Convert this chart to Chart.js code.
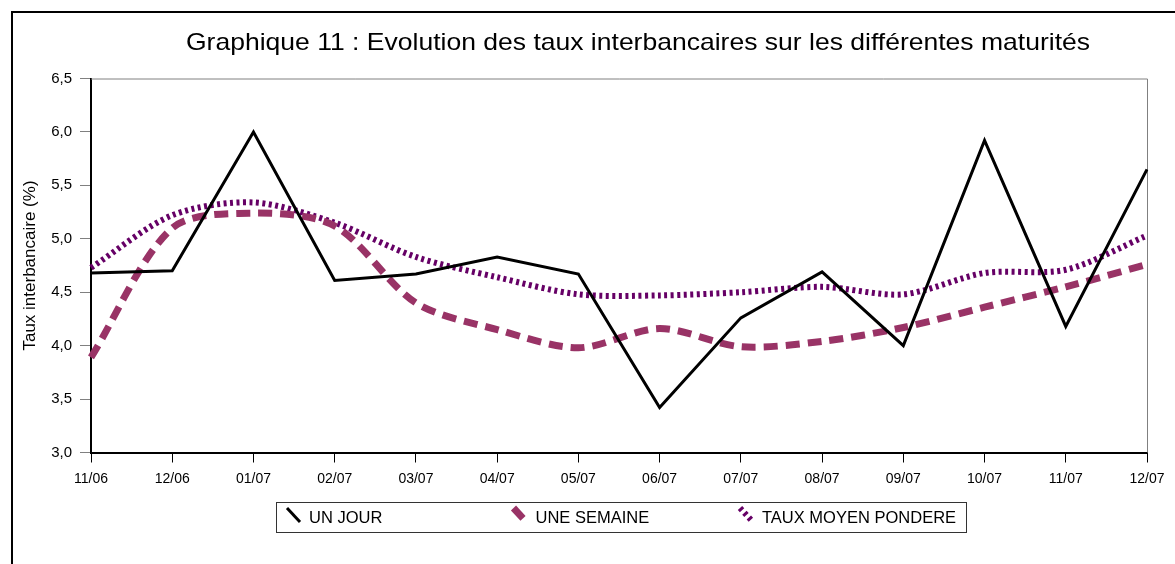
<!DOCTYPE html>
<html>
<head>
<meta charset="utf-8">
<script src="https://cdn.jsdelivr.net/npm/chart.js@4.4.0/dist/chart.umd.min.js"></script>
<style>
  html, body { margin: 0; padding: 0; background: #fff; overflow: hidden; }
  #wrap { position: absolute; left: 0; top: 0; width: 1276px; height: 564px; }
</style>
</head>
<body>
<div id="wrap"><canvas id="chart"></canvas></div>
<script>
const titleText = 'Graphique 11 : Evolution des taux interbancaires sur les différentes maturités';
const labels = ['11/06', '12/06', '01/07', '02/07', '03/07', '04/07', '05/07', '06/07', '07/07', '08/07', '09/07', '10/07', '11/07', '12/07'];
const unJour = [4.68, 4.70, 6.00, 4.61, 4.67, 4.83, 4.67, 3.42, 4.26, 4.69, 4.00, 5.92, 4.18, 5.65];
const uneSemaine = [3.89, 5.10, 5.24, 5.12, 4.40, 4.15, 3.98, 4.16, 3.99, 4.04, 4.17, 4.36, 4.55, 4.76];
const tauxMoyen = [4.73, 5.22, 5.34, 5.15, 4.83, 4.64, 4.48, 4.47, 4.50, 4.55, 4.48, 4.68, 4.71, 5.03];

const FONT = '"Liberation Sans", Arial, sans-serif';
const fmt = v => v.toFixed(1).replace('.', ',');

// frame, title (stretched like the original), top/right plot border, boxed legend
const decor = {
    id: 'decor',
    beforeDatasetsDraw(chart) {
        const { ctx, chartArea: a } = chart;
        ctx.save();
        ctx.strokeStyle = '#808080';
        ctx.lineWidth = 1;
        ctx.beginPath();
        ctx.moveTo(a.left, a.top + 0.5);
        ctx.lineTo(a.right + 0.5, a.top + 0.5);
        ctx.lineTo(a.right + 0.5, a.bottom);
        ctx.stroke();
        ctx.restore();
    },
    afterDraw(chart) {
        const ctx = chart.ctx;
        ctx.save();
        ctx.strokeStyle = '#000';
        ctx.lineWidth = 2;
        ctx.strokeRect(12, 12, 1400, 800);

        // title
        ctx.save();
        ctx.font = '24px ' + FONT;
        ctx.fillStyle = '#000';
        ctx.textAlign = 'center';
        ctx.textBaseline = 'alphabetic';
        const sx = 904 / ctx.measureText(titleText).width;
        ctx.translate(638, 50);
        ctx.scale(sx, 1);
        ctx.fillText(titleText, 0, 0);
        ctx.restore();

        // legend
        ctx.lineWidth = 1;
        ctx.strokeStyle = '#333';
        ctx.strokeRect(276.5, 502.5, 690, 30);
        ctx.font = '16.5px ' + FONT;
        ctx.textBaseline = 'middle';
        ctx.fillStyle = '#000';
        chart.data.datasets.forEach((ds, i) => {
            const tx = 309 + i * 226.5;
            ctx.save();
            ctx.strokeStyle = ds.borderColor;
            ctx.lineWidth = ds.borderWidth;
            ctx.setLineDash(ds.borderDash || []);
            ctx.beginPath();
            ctx.moveTo(tx - 22, 508);
            ctx.lineTo(tx - 9, 522);
            ctx.stroke();
            ctx.restore();
            ctx.fillText(ds.label, tx, 518);
        });
        ctx.restore();
    }
};

new Chart(document.getElementById('chart'), {
    type: 'line',
    data: {
        labels: labels,
        datasets: [{
            label: 'UN JOUR',
            data: unJour,
            borderColor: '#000000',
            borderWidth: 3,
            tension: 0,
            pointRadius: 0
        }, {
            label: 'UNE SEMAINE',
            data: uneSemaine,
            borderColor: '#993366',
            borderWidth: 7,
            borderDash: [14, 8],
            tension: 0.3,
            pointRadius: 0
        }, {
            label: 'TAUX MOYEN PONDERE',
            data: tauxMoyen,
            borderColor: '#660066',
            borderWidth: 6,
            borderDash: [3, 3.5],
            tension: 0.3,
            pointRadius: 0
        }]
    },
    options: {
        responsive: true,
        maintainAspectRatio: false,
        animation: false,
        layout: { padding: { left: 0, right: 129, top: 78.5, bottom: 0 } },
        plugins: {
            legend: { display: false },
            tooltip: { enabled: false },
            title: { display: false }
        },
        scales: {
            x: {
                offset: false,
                grid: { display: true, drawOnChartArea: false, drawTicks: true, tickLength: 10, color: '#000', offset: false },
                border: { color: '#000', width: 2 },
                ticks: {
                    color: '#000',
                    padding: 8,
                    maxRotation: 0,
                    autoSkip: false,
                    font: { family: FONT, size: 14 }
                },
                afterFit: s => { s.height = 111.5; }
            },
            y: {
                min: 3,
                max: 6.5,
                grid: { display: true, drawOnChartArea: false, drawTicks: true, tickLength: 11, color: '#808080' },
                border: { color: '#000', width: 2 },
                ticks: {
                    stepSize: 0.5,
                    color: '#000',
                    padding: 8,
                    callback: v => fmt(v),
                    font: { family: FONT, size: 15 }
                },
                title: {
                    display: true,
                    text: 'Taux interbancaire (%)',
                    color: '#000',
                    padding: { top: 20, bottom: 0 },
                    font: { family: FONT, size: 17 }
                },
                afterFit: s => { s.width = 91; }
            }
        }
    },
    plugins: [decor]
});
</script>
</body>
</html>
